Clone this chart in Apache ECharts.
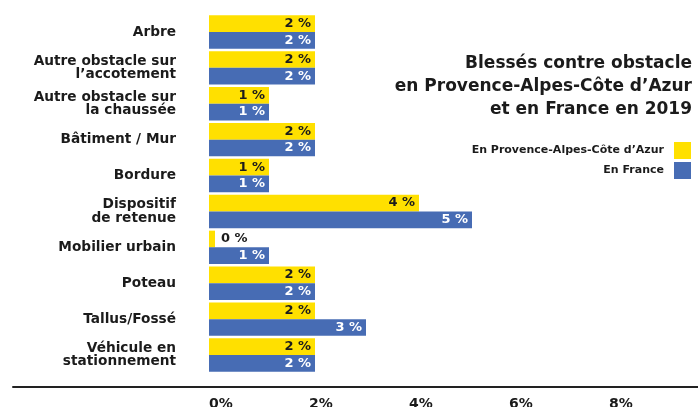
<!DOCTYPE html>
<html>
<head>
<meta charset="utf-8">
<script src="https://cdn.jsdelivr.net/npm/echarts@6/dist/echarts.min.js"></script>
<style>
html,body{margin:0;padding:0;background:#fff;}
#chart{width:698px;height:407px;}
</style>
</head>
<body>
<div id="chart"></div>
<script>
const categories = [
  "Arbre",
  "Autre obstacle sur\nl’accotement",
  "Autre obstacle sur\nla chaussée",
  "Bâtiment / Mur",
  "Bordure",
  "Dispositif\nde retenue",
  "Mobilier urbain",
  "Poteau",
  "Tallus/Fossé",
  "Véhicule en\nstationnement"
];
const pacaValues =   [2.12, 2.12, 1.2, 2.12, 1.2, 4.2, 0.12, 2.12, 2.12, 2.12];
const franceValues = [2.12, 2.12, 1.2, 2.12, 1.2, 5.26, 1.2, 2.12, 3.14, 2.12];
const tickValues = [0, 2, 4, 6, 8];
const seriesNames = ["En Provence-Alpes-Côte d’Azur", "En France"];
const titleText = "Blessés contre obstacle\nen Provence-Alpes-Côte d’Azur\net en France en 2019";

const FONT = "DejaVu Sans";
const YELLOW = "#FFE000";
const BLUE = "#476CB4";
const DARK = "#1b1b1b";

function labelData(values) {
  return values.map(v => {
    const item = { value: v };
    if (v < 0.5) {
      item.label = { position: 'right', distance: 6, color: DARK };
    }
    return item;
  });
}

const chart = echarts.init(document.getElementById('chart'), null, { renderer: 'canvas' });
chart.setOption({
  animation: false,
  backgroundColor: '#fff',
  title: {
    text: titleText,
    right: 'right',
    top: 52,
    padding: [0, 6, 0, 0],
    textStyle: { fontFamily: FONT, fontSize: 17, fontWeight: 'bold', lineHeight: 23, color: DARK }
  },
  legend: {
    orient: 'vertical',
    right: 7,
    top: 142,
    padding: 0,
    align: 'right',
    itemWidth: 17,
    itemHeight: 17,
    itemGap: 3,
    icon: 'rect',
    data: seriesNames,
    textStyle: { fontFamily: FONT, fontSize: 11, fontWeight: 'bold', color: DARK, padding: [0, 5, 0, 0] }
  },
  grid: [
    { left: 209, right: 0, top: 14, bottom: 34, containLabel: false, outerBoundsMode: 'none' },
    { left: 13, right: 0, top: 14, bottom: 20, containLabel: false, outerBoundsMode: 'none' }
  ],
  xAxis: [
    {
      type: 'value', gridIndex: 0, min: 0, max: 9.78, interval: 2,
      axisLine: { show: false }, axisTick: { show: false }, splitLine: { show: false },
      axisLabel: {
        showMaxLabel: false, align: 'left', margin: 24,
        fontFamily: FONT, fontSize: 14, fontWeight: 'bold', color: DARK,
        formatter: v => tickValues.includes(v) ? v + '%' : ''
      }
    },
    {
      type: 'value', gridIndex: 1, min: 0, max: 1,
      axisLine: { show: true, lineStyle: { color: '#222', width: 2 } },
      axisTick: { show: false }, axisLabel: { show: false }, splitLine: { show: false }
    }
  ],
  yAxis: [
    {
      type: 'category', gridIndex: 0, data: categories, inverse: true,
      axisLine: { show: false }, axisTick: { show: false },
      axisLabel: {
        margin: 33, fontFamily: FONT, fontSize: 13.7, fontWeight: 'bold', color: DARK, lineHeight: 13.5, align: 'right'
      }
    },
    { type: 'value', gridIndex: 1, show: false }
  ],
  series: [
    {
      name: seriesNames[0], type: 'bar', xAxisIndex: 0, yAxisIndex: 0,
      data: labelData(pacaValues), barGap: '0%', barCategoryGap: '7%',
      itemStyle: { color: YELLOW },
      label: {
        show: true, position: 'insideRight', distance: 4,
        fontFamily: FONT, fontSize: 13, fontWeight: 'bold', color: DARK,
        formatter: p => Math.round(p.value) + ' %'
      }
    },
    {
      name: seriesNames[1], type: 'bar', xAxisIndex: 0, yAxisIndex: 0,
      data: labelData(franceValues), barGap: '0%', barCategoryGap: '7%',
      itemStyle: { color: BLUE },
      label: {
        show: true, position: 'insideRight', distance: 4,
        fontFamily: FONT, fontSize: 13, fontWeight: 'bold', color: '#fff',
        formatter: p => Math.round(p.value) + ' %'
      }
    }
  ]
});
</script>
</body>
</html>
